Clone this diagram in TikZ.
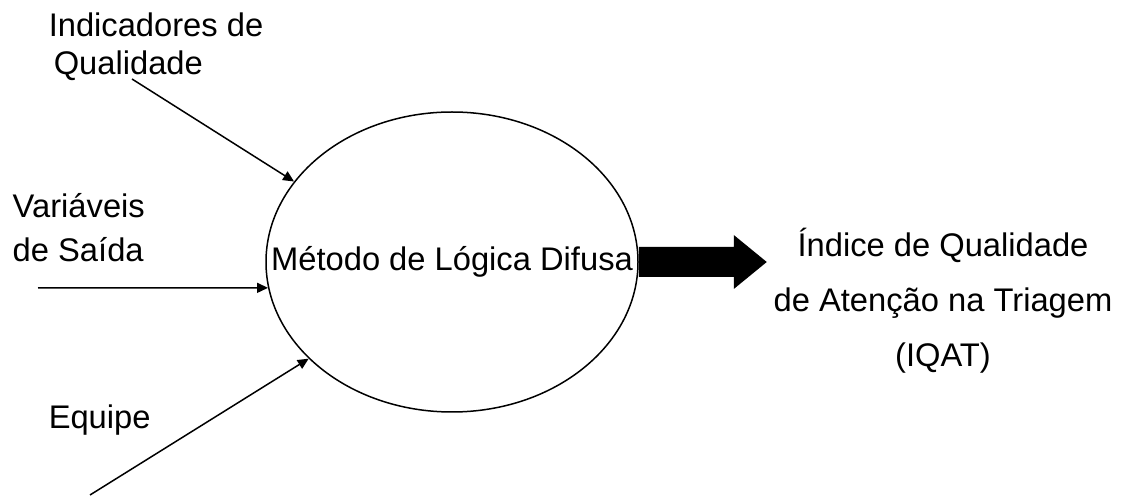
\documentclass[tikz,border=0pt]{standalone}
\usepackage{fontspec}
\setmainfont{Liberation Sans}
\usetikzlibrary{arrows.meta,shapes.geometric}

\begin{document}
\begin{tikzpicture}[x=0.5pt,y=-0.5pt,line width=0.75pt,
    >={Triangle[length=5.5pt,width=5pt]}]
  \tikzstyle{lbl}=[inner sep=0pt,align=left,anchor=base west]
  \useasboundingbox (0,0) rectangle (1130,496);

  \node[draw, ellipse, inner sep=0pt, minimum width=186pt, minimum height=150pt] (met) at (452,262) {};
  \node[inner sep=0pt, font=\fontsize{16.35}{19}\selectfont] (met_t) at (452,262) {Método de Lógica Difusa};

  % multi-line labels sit on the baseline of their last line
  \node[lbl, font=\fontsize{16.35}{19}\selectfont] (ind) at (48,75) {Indicadores de\\\hspace{2.5pt}Qualidade};
  \node[lbl, font=\fontsize{16.35}{22}\selectfont] (var) at (12,262) {Variáveis\\de Saída};
  \node[lbl, font=\fontsize{16.35}{19}\selectfont] (eq) at (48,429) {Equipe};
  \node[lbl, align=center, anchor=base, font=\fontsize{16.35}{27.5}\selectfont] (iqat) at (943,367)
    {Índice de Qualidade\\de Atenção na Triagem\\(IQAT)};

  \coordinate (ind_s) at (132,79);
  \coordinate (var_s) at (38,288);
  \coordinate (eq_s) at (90,495);

  \path[->]
  (ind_s) edge (met.153)
  (var_s) edge (met.188)
  (eq_s)  edge (met.214);

  % big output arrow
  \fill (met.east) ++(0,-15) -- ++(95,0) -- ++(0,-12) -- ++(33,27)
    -- ++(-33,27) -- ++(0,-12) -- ++(-95,0) -- cycle;
\end{tikzpicture}
\end{document}
